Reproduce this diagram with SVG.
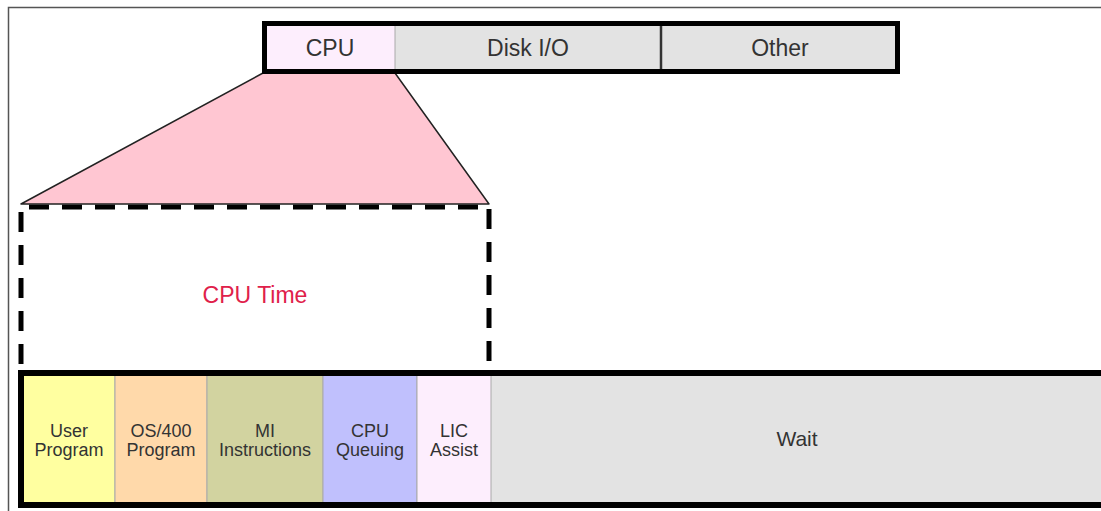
<svg xmlns="http://www.w3.org/2000/svg" width="1101" height="511" viewBox="0 0 1101 511">
<style>
  .lbl { font-family: "Liberation Sans", Arial, sans-serif; fill: #333; text-anchor: middle; }
  .top { font-size: 23px; }
  .small { font-size: 18px; }
  .seg { stroke: #aaa; stroke-width: 1; }
</style>
<rect width="1101" height="511" fill="#fff"/>
<g id="frame">
  <path d="M8.5,515 V7.5 H1105" fill="none" stroke="#555" stroke-width="1.5"/>
</g>
<g id="connectors">
  <path id="cpu-time-box" d="M21,364 V207 H489 V364" fill="none" stroke="#000" stroke-width="5" stroke-dasharray="20 13"/>
  <polygon id="zoom-wedge" points="263,73 395,73 489,204 21,204" fill="#ffc6d2" stroke="#222" stroke-width="1.5" stroke-linejoin="round"/>
</g>
<g id="top-bar">
  <rect x="264.5" y="23.5" width="633" height="48" fill="#e3e3e3"/>
  <rect x="264.5" y="23.5" width="130.5" height="48" fill="#fdeefd"/>
  <line x1="395" y1="24" x2="395" y2="71" class="seg"/>
  <line x1="661" y1="24" x2="661" y2="71" stroke="#333" stroke-width="2.5"/>
  <rect x="264.5" y="23.5" width="633" height="48" fill="none" stroke="#000" stroke-width="5"/>
  <text class="lbl top" x="330" y="56">CPU</text>
  <text class="lbl top" x="528" y="56">Disk I/O</text>
  <text class="lbl top" x="780" y="56">Other</text>
</g>
<g id="cpu-time">
  <text x="255" y="303" font-family="Liberation Sans, Arial, sans-serif" font-size="23" fill="#e0204a" text-anchor="middle">CPU Time</text>
</g>
<g id="bottom-bar">
  <rect x="21" y="373" width="1090" height="132" fill="#e3e3e3"/>
  <g id="user-program">
    <rect x="21" y="373" width="94" height="132" fill="#ffffa0" class="seg"/>
    <text class="lbl small" x="69" y="437">User</text>
    <text class="lbl small" x="69" y="456">Program</text>
  </g>
  <g id="os400-program">
    <rect x="115" y="373" width="92" height="132" fill="#ffd9aa" class="seg"/>
    <text class="lbl small" x="161" y="437">OS/400</text>
    <text class="lbl small" x="161" y="456">Program</text>
  </g>
  <g id="mi-instructions">
    <rect x="207" y="373" width="116" height="132" fill="#d2d3a0" class="seg"/>
    <text class="lbl small" x="265" y="437">MI</text>
    <text class="lbl small" x="265" y="456">Instructions</text>
  </g>
  <g id="cpu-queuing">
    <rect x="323" y="373" width="94" height="132" fill="#c0c0fd" class="seg"/>
    <text class="lbl small" x="370" y="437">CPU</text>
    <text class="lbl small" x="370" y="456">Queuing</text>
  </g>
  <g id="lic-assist">
    <rect x="417" y="373" width="74" height="132" fill="#fdeefd" class="seg"/>
    <text class="lbl small" x="454" y="437">LIC</text>
    <text class="lbl small" x="454" y="456">Assist</text>
  </g>
  <g id="wait">
    <text class="lbl" font-size="21" x="797" y="446">Wait</text>
  </g>
  <rect x="21" y="373" width="1090" height="132" fill="none" stroke="#000" stroke-width="6"/>
</g>
</svg>
